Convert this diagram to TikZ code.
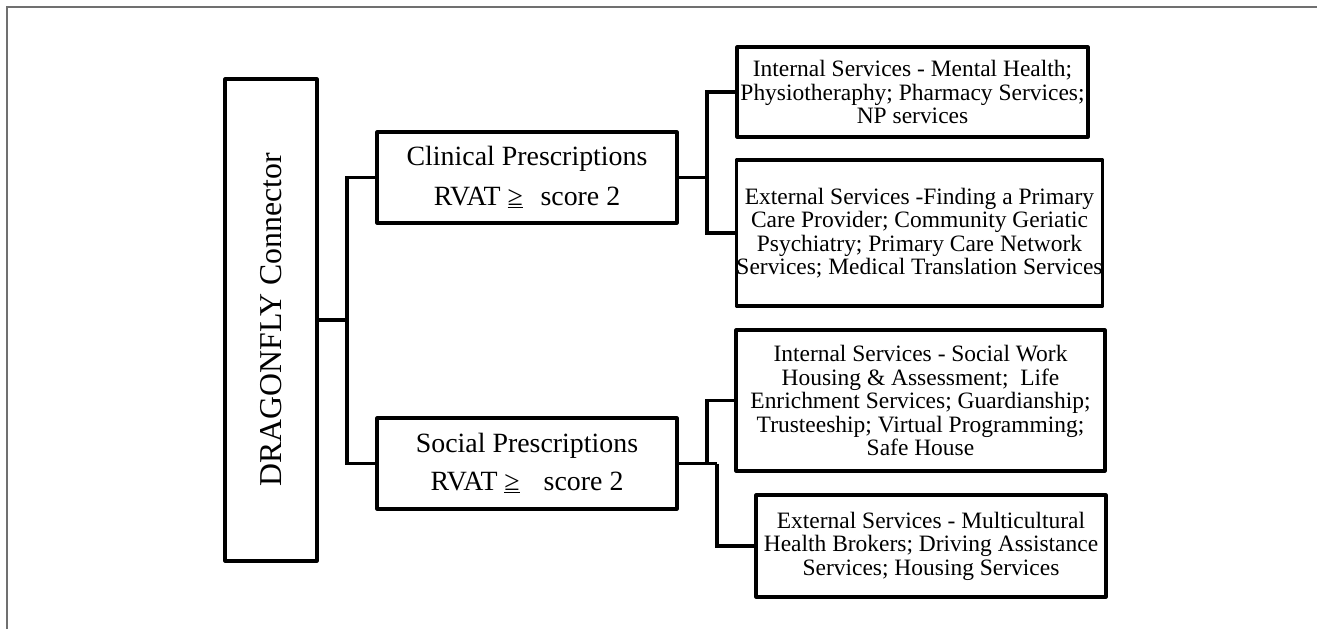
\documentclass[tikz,border=0pt]{standalone}
\usepackage{fontspec}
\usepackage{graphicx}
\setmainfont{Liberation Serif}
\definecolor{framegray}{HTML}{707070}
\tikzset{
  box/.style={draw=black, line width=2.3pt, line join=round, rectangle, inner sep=0pt, outer sep=0pt, align=center},
  wire/.style={draw=black, line width=2.3pt, line join=miter},
  bigfont/.style={font=\fontsize{23.85}{28}\selectfont},
  midfont/.style={font=\fontsize{20.9}{30}\selectfont},
  midfontb/.style={font=\fontsize{20.9}{28.5}\selectfont},
  smallfont/.style={font=\fontsize{17.6}{17.6}\selectfont},
}
\begin{document}
\begin{tikzpicture}[x=0.75pt, y=-0.75pt]
\useasboundingbox (0,0) rectangle (1317,629);
% frame
\draw[framegray, line width=1.1pt] (7,629) -- (7,7) -- (1317,7);

% nodes
\node[box, bigfont, minimum width=69pt, minimum height=361.5pt] (drag) at (271,320) {\rotatebox{90}{DRAGONFLY Connector}};
\node[box, midfont, minimum width=225pt, minimum height=68.25pt] (clin) at (527,177.5) {Clinical Prescriptions\\RVAT \underline{≥}\hspace{0.63em}score 2};
\node[box, midfontb, minimum width=225pt, minimum height=68.25pt] (soc) at (527,463.5) {Social Prescriptions\\RVAT \underline{≥}\hspace{0.86em}score 2};

\node[box, smallfont, minimum width=263.25pt, minimum height=67.5pt] (ic) at (912.5,92) {Internal Services - Mental Health;\\Physiotheraphy; Pharmacy Services;\\NP services};
\node[box, smallfont, minimum width=273.75pt, minimum height=109.5pt] (ec) at (919.5,233) {External Services -Finding a Primary\\Care Provider; Community Geriatic\\Psychiatry; Primary Care Network\\Services; Medical Translation Services};
\node[box, smallfont, minimum width=276.75pt, minimum height=105.75pt] (is) at (920.5,400.5) {Internal Services - Social Work\\Housing \& Assessment;~ Life\\Enrichment Services; Guardianship;\\Trusteeship; Virtual Programming;\\Safe House};
\node[box, smallfont, minimum width=262.5pt, minimum height=76.5pt] (es) at (931,546) {External Services - Multicultural\\Health Brokers; Driving Assistance\\Services; Housing Services};

% junction coordinates
\coordinate (k1) at (347,320);
\coordinate (k2) at (707,177.5);
\coordinate (k3) at (707,463.5);
\coordinate (k4) at (717,463.5);

% connectors
\draw[wire] (drag.east) -- (k1);
\draw[wire] (clin.west) -| (k1) |- (soc.west);
\draw[wire] (clin.east) -- (k2);
\draw[wire] (ic.west) -| (k2) |- (ec.west);
\draw[wire] (soc.east) -- (k4);
\draw[wire] (k3) |- (is.west);
\draw[wire] (k4) |- (es.west);
\end{tikzpicture}
\end{document}
